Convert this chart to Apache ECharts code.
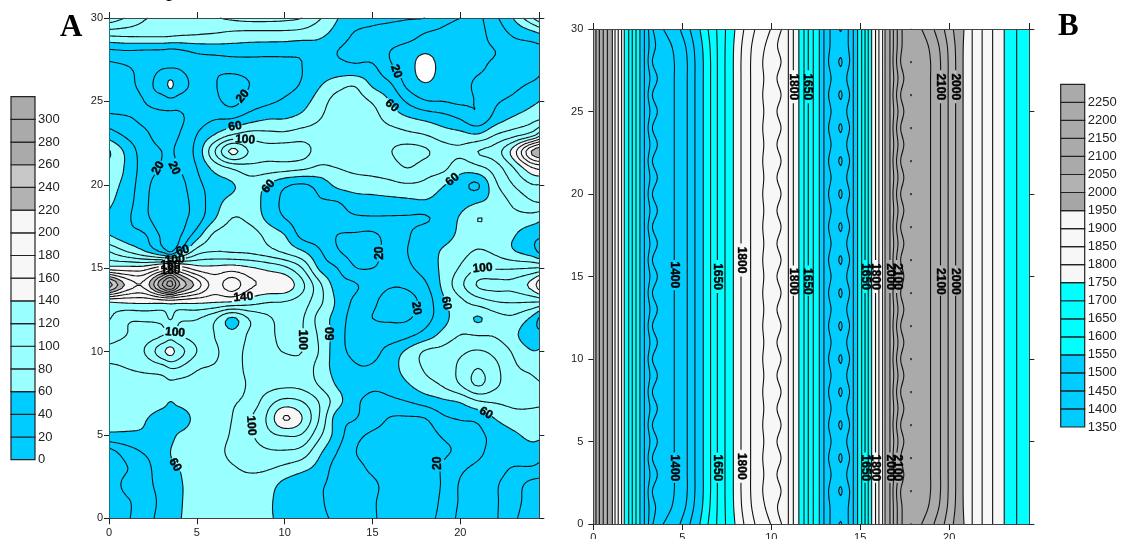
<!DOCTYPE html>
<html><head><meta charset="utf-8">
<style>html,body{margin:0;padding:0;background:#fff}#c{width:1126px;height:539px}</style>
<script src="https://cdn.jsdelivr.net/npm/echarts@6/dist/echarts.min.js"></script>
</head><body><div id="c"></div>
<script>
// ---------- Chart A: values ----------
const aColumns = [0,1,2,3,3.5,4,5,6,7,8,9,10,11,12,13,14,15,16,17,18,19,20,21,22,23,24,24.5];
const aRowsY = [30,29,28,27,26,25,24,23,22,21,20,19,18,17,16,15,14,13,12,11,10,9,8,7,6,5,4,3,2,1,0];
const aValues = [
[135,118,102,95,93,92,92,98,104,108,108,106,100,82,61,50,44,42,41,40,28,20,16,36,60,95,115],
[84,85,85,85,84,82,80,78,74,72,72,72,70,64,52,38,36,34,30,18,14,10,14,28,42,50,56],
[35,38,37,36,34,36,43,46,48,48,47,46,44,50,40,34,32,20,10,2,8,12,17,20,30,32,34],
[14,18,26,21,20,21,27,24,25,27,28,32,40,46,47,45,44,24,10,-10,8,12,17,24,28,30,36],
[10,14,24,12,-4,12,24,21,14,20,28,34,42,58,72,78,57,43,15,2,10,13,24,30,35,42,46],
[8,10,20,25,24,25,27,25,14,28,36,43,52,70,88,88,78,60,37,22,20,17,22,37,45,55,60],
[26,22,16,14,14,16,30,38,39,50,58,59,66,79,92,100,88,72,62,55,48,38,24,48,62,72,76],
[50,36,24,12,10,20,40,60,80,88,86,85,90,90,94,92,92,90,85,80,70,66,62,80,92,108,130],
[82,55,30,20,16,28,46,98,145,118,108,110,108,92,92,90,92,99,108,103,90,84,100,110,148,218,236],
[72,57,30,18,10,20,40,66,82,92,90,88,84,76,80,84,86,90,100,90,85,68,74,90,118,155,165],
[66,54,26,12,8,12,34,50,58,70,60,44,38,48,65,70,72,75,78,75,62,48,38,76,100,118,120],
[63,50,24,12,8,12,28,52,66,72,52,36,32,38,40,50,52,54,56,58,52,52,58,68,84,98,102],
[58,44,26,8,6,12,30,58,80,75,56,40,32,30,33,37,38,38,38,38,48,62,80,74,74,72,66],
[60,48,42,16,6,16,50,84,90,90,74,60,34,30,20,18,17,28,38,50,52,64,72,68,62,48,44],
[100,80,62,36,18,44,90,100,98,96,88,76,62,42,22,15,16,26,40,50,62,72,82,76,62,50,36],
[148,148,150,175,195,175,150,146,150,143,135,125,100,56,40,21,20,26,36,48,64,82,100,98,98,100,102],
[272,215,205,278,308,262,212,172,192,165,156,154,125,84,50,42,30,22,24,37,64,94,122,126,126,145,172],
[142,145,146,148,150,148,146,143,141,130,122,120,110,85,56,36,24,12,13,28,56,75,90,100,102,102,102],
[122,105,105,108,122,105,102,85,57,82,96,108,102,72,52,30,20,18,18,32,52,70,58,72,76,58,38],
[110,100,92,98,110,100,92,80,66,83,92,108,101,76,50,30,30,28,35,48,66,80,79,78,66,45,46],
[92,90,100,134,146,130,100,84,72,86,92,101,100,78,48,36,34,48,64,82,86,96,102,94,78,62,62],
[76,80,84,90,100,98,82,78,74,84,88,90,92,72,52,42,42,52,68,82,88,104,120,105,84,76,70],
[70,72,72,72,74,72,72,72,74,82,92,96,94,78,58,47,42,46,58,72,82,100,122,104,88,85,82],
[66,70,72,68,60,66,70,74,78,86,110,126,120,98,68,44,36,36,40,48,56,62,78,82,84,82,82],
[62,65,62,50,46,48,66,72,80,98,122,162,140,98,50,41,30,19,18,20,36,42,45,61,72,76,74],
[57,57,57,52,54,62,68,72,82,96,114,122,118,84,50,27,17,14,12,12,22,28,36,46,56,65,64],
[12,30,42,50,60,66,68,74,84,90,97,98,92,64,40,21,12,8,8,10,17,24,36,46,50,52,50],
[6,19,32,52,56,60,70,72,78,83,82,75,66,52,32,26,16,6,5,8,22,36,44,46,39,38,34],
[5,26,34,46,50,58,66,68,70,72,68,54,44,42,34,28,24,12,10,10,22,42,50,42,30,14,12],
[5,17,30,44,48,58,66,68,68,66,64,50,44,42,32,26,22,12,10,10,24,42,48,42,28,12,10],
[5,17,32,46,52,59,66,68,68,66,62,56,50,44,36,28,22,14,12,14,26,44,46,42,24,10,8]
];
const aLevels = [0,20,40,60,80,100,120,140,160,180,200,220,240,260,280,300,320];
const aColors = ['#00CCFF','#00CCFF','#00CCFF','#99FFFF','#99FFFF','#99FFFF','#99FFFF','#F7F7F7','#F7F7F7','#F7F7F7','#F7F7F7','#B2B2B2','#C8C8C8','#AAAAAA','#AAAAAA','#AAAAAA'];
// x, y, text, rotation in degrees
const aLabels = [
[7.62,25.3,'20',50],[7.18,23.5,'60',10],[7.75,22.7,'100',-3],[2.8,21,'20',60],[3.7,21,'20',-65],
[9.08,19.9,'60',50],[4.2,16.05,'60',15],[3.75,15.5,'100',5],[3.5,15.15,'160',0],[3.5,14.85,'180',0],
[16.35,26.8,'20',-70],[16.1,24.74,'60',-40],[19.56,20.3,'60',40],[15.44,15.9,'20',90],[21.27,15,'100',5],
[3.76,11.14,'100',-5],[7.65,13.26,'140',5],[10.98,10.7,'100',-90],[12.6,11.06,'60',90],[8.09,5.56,'100',-85],
[3.76,3.2,'60',-60],[17.5,12.6,'20',-80],[19.2,12.9,'60',-80],[21.46,6.3,'60',-30],[18.72,3.3,'20',90]
];

// ---------- Chart B: values ----------
const bRowsY = [30,29,28,27,26,25,24,23,22,21,20,19,18,17,16,15,14,13,12,11,10,9,8,7,6,5,4,3,2,1,0];
const bEvenValues = [2190,2150,2100,2050,2000,1950,1900,1850,1800,1750,1700,1650,1600,1550,1500,1450,1400,1375,1400,1450,1500,1550,1600,1650,1700,1750,1800,1850,1900,1925,1900,1850,1800,1750,1700,1650,1600,1550,1500,1450,1390,1450,1500,1550,1600,1650,1700,1750,1800,1850,1900,1950,2000,2050,2100,2150,2201,2150,2100,2050,2000,1950,1900,1850,1800,1750,1700,1680];
const bOddValues  = [2190,2150,2100,2050,2000,1950,1900,1850,1800,1750,1700,1650,1600,1550,1500,1450,1400,1375,1400,1450,1500,1550,1600,1650,1700,1750,1800,1850,1900,1925,1900,1850,1800,1750,1700,1650,1600,1550,1500,1450,1440,1450,1500,1550,1600,1650,1700,1750,1800,1850,1900,1950,2000,2050,2100,2150,2155,2150,2100,2050,2000,1950,1900,1850,1800,1750,1700,1680];
const bEvenX = [0,.15,.34,.56,.79,1.07,1.22,1.40,1.59,1.74,1.99,2.19,2.40,2.62,2.87,3.08,3.32,4.03,4.55,5.28,5.71,6.18,6.59,6.97,7.40,7.87,8.30,8.84,9.52,10.02,10.55,10.96,11.24,11.55,11.84,12.08,12.36,12.70,12.96,13.22,13.90,14.40,14.61,14.85,15.08,15.27,15.45,15.64,15.86,16.05,16.26,16.39,16.67,16.84,17.04,17.27,17.85,18.95,19.51,19.94,20.36,20.78,21.29,21.85,22.44,23.09,23.79,24.5];
const bOddX  = [0,.15,.34,.56,.79,1.07,1.22,1.40,1.59,1.74,1.99,2.19,2.40,2.62,2.87,3.18,3.60,4.07,4.55,5.28,5.71,6.18,6.59,6.97,7.40,7.87,8.30,8.84,9.58,10.02,10.32,10.96,11.24,11.55,11.84,12.08,12.36,12.70,12.96,13.36,13.90,14.24,14.61,14.85,15.08,15.27,15.45,15.64,15.86,16.05,16.26,16.39,16.67,16.88,17.12,17.45,17.85,18.95,19.51,19.94,20.36,20.78,21.29,21.85,22.44,23.09,23.79,24.5];
const bNearX = [0,.15,.34,.56,.79,1.07,1.22,1.40,1.59,1.74,1.99,2.19,2.40,2.62,2.87,3.13,3.50,3.92,4.40,5.18,5.64,6.13,6.55,6.96,7.41,7.89,8.34,8.90,9.66,10.06,10.35,10.96,11.24,11.55,11.84,12.08,12.36,12.70,12.96,13.30,13.90,14.33,14.61,14.85,15.08,15.27,15.45,15.64,15.86,16.05,16.26,16.39,16.67,16.86,17.08,17.35,17.85,18.82,19.42,19.89,20.33,20.79,21.29,21.85,22.44,23.09,23.79,24.5];
const bEdgeX = [0,.15,.34,.56,.79,1.07,1.22,1.40,1.59,1.74,1.99,2.19,2.40,2.62,2.87,3.10,3.35,3.62,3.93,4.87,5.43,5.99,6.45,6.93,7.43,7.96,8.46,9.08,9.96,10.20,10.58,10.96,11.24,11.55,11.84,12.08,12.36,12.70,12.96,13.30,13.90,14.33,14.61,14.85,15.08,15.27,15.45,15.64,15.86,16.05,16.26,16.39,16.67,16.86,17.08,17.35,17.85,18.45,19.14,19.72,20.23,20.83,21.29,21.85,22.44,23.09,23.79,24.5];
const bLevels = [1350,1400,1450,1500,1550,1600,1650,1700,1750,1800,1850,1900,1950,2000,2050,2100,2150,2200,2250,2300];
const bColors = ['#00CCFF','#00CCFF','#00CCFF','#00CCFF','#00FFFF','#00FFFF','#00FFFF','#00FFFF','#F7F7F7','#F7F7F7','#F7F7F7','#F7F7F7','#A6A6A6','#B2B2B2','#AAAAAA','#AAAAAA','#AAAAAA','#AAAAAA','#AAAAAA'];
const bLabels = [
[11.24,26.5,'1800',-90],[12.04,26.5,'1650',-90],[19.51,26.5,'2100',-90],[20.36,26.5,'2000',-90],
[4.55,15.1,'1400',-90],[6.97,15.0,'1650',-90],[8.30,16.0,'1800',-90],[11.24,14.7,'1800',-90],[12.04,14.7,'1650',-90],
[15.27,15,'1650',-90],[15.86,15,'1800',-90],[16.67,15,'2000',-90],[17.08,15,'2100',-90],[19.51,14.7,'2100',-90],[20.36,14.7,'2000',-90],
[4.55,3.4,'1400',-90],[6.97,3.4,'1650',-90],[8.30,3.5,'1800',-90],[15.27,3.4,'1650',-90],[15.86,3.4,'1800',-90],[16.67,3.4,'2000',-90],[17.08,3.4,'2100',-90]
];

// ---------- contour engine ----------
function cr(a,b,c,d,t){return 0.5*((2*b)+(-a+c)*t+(2*a-5*b+4*c-d)*t*t+(-a+3*b-3*c+d)*t*t*t);}
function up1(arr,f){
  if(f===1) return arr.slice();
  const n=arr.length,out=[];
  for(let i=0;i<n-1;i++){
    const a=arr[Math.max(i-1,0)],b=arr[i],c=arr[i+1],d=arr[Math.min(i+2,n-1)];
    for(let k=0;k<f;k++) out.push(cr(a,b,c,d,k/f));
  }
  out.push(arr[n-1]);return out;
}
function up2(M,fi,fj){
  const R=M.map(r=>up1(r,fi)),ni=R[0].length,C=[];
  for(let i=0;i<ni;i++) C.push(up1(R.map(r=>r[i]),fj));
  const nj=C[0].length,O=[];
  for(let j=0;j<nj;j++){const r=new Array(ni);for(let i=0;i<ni;i++) r[i]=C[i][j];O.push(r);}
  return O;
}
function clip(poly,L,above){
  const out=[];
  for(let i=0;i<poly.length;i++){
    const p=poly[i],q=poly[(i+1)%poly.length];
    const pi=above?p[2]>=L:p[2]<=L, qi=above?q[2]>=L:q[2]<=L;
    if(pi) out.push(p);
    if(pi!==qi){const t=(L-p[2])/(q[2]-p[2]);out.push([p[0]+t*(q[0]-p[0]),p[1]+t*(q[1]-p[1]),L]);}
  }
  return out;
}
function contour(X,Y,V,levels){
  const nB=levels.length-1,bands=[];for(let k=0;k<nB;k++)bands.push([]);
  const lines=levels.map(()=>[]);
  function tri(A,B,C){
    const mn=Math.min(A[2],B[2],C[2]),mx=Math.max(A[2],B[2],C[2]);
    for(let k=0;k<nB;k++){
      if(mx<levels[k]||mn>levels[k+1])continue;
      let p=[A,B,C];
      if(mn<levels[k])p=clip(p,levels[k],true);
      if(p.length&&mx>levels[k+1])p=clip(p,levels[k+1],false);
      if(p.length>=3)bands[k].push(p);
    }
    for(let k=0;k<levels.length;k++){
      const L=levels[k];if(mx<L||mn>L)continue;
      const pts=[];
      [[A,B],[B,C],[C,A]].forEach(e=>{
        const a=e[0],b=e[1];
        if((a[2]>=L)!==(b[2]>=L)){const t=(L-a[2])/(b[2]-a[2]);pts.push([a[0]+t*(b[0]-a[0]),a[1]+t*(b[1]-a[1])]);}
      });
      if(pts.length===2)lines[k].push(pts);
    }
  }
  for(let j=0;j<V.length-1;j++)for(let i=0;i<V[0].length-1;i++){
    const a=[X[j][i],Y[j][i],V[j][i]],b=[X[j][i+1],Y[j][i+1],V[j][i+1]],c=[X[j+1][i+1],Y[j+1][i+1],V[j+1][i+1]],d=[X[j+1][i],Y[j+1][i],V[j+1][i]];
    const mn=Math.min(a[2],b[2],c[2],d[2]),mx=Math.max(a[2],b[2],c[2],d[2]);
    let whole=-1;
    for(let k=0;k<nB;k++) if(mn>levels[k]&&mx<levels[k+1]){whole=k;break;}
    if(whole>=0){bands[whole].push([a,b,c,d]);continue;}
    tri(a,b,c);tri(a,c,d);
  }
  return {bands,lines};
}
function pathFromPolys(polys,api){
  const s=[];
  for(const p of polys){
    for(let i=0;i<p.length;i++){
      const c=api.coord([p[i][0],p[i][1]]);
      s.push((i?'L':'M')+c[0].toFixed(2)+' '+c[1].toFixed(2));
    }
    s.push('Z');
  }
  return s.join('');
}
function chainPath(segs){
  const key=p=>p[0].toFixed(2)+','+p[1].toFixed(2),map=new Map();
  segs.forEach((g,i)=>{[key(g[0]),key(g[1])].forEach(k=>{if(!map.has(k))map.set(k,[]);map.get(k).push(i);});});
  const used=new Array(segs.length).fill(false),out=[];
  function walk(start){
    const run=[];let cur=start;
    for(;;){
      const l=map.get(key(cur));let nx=-1;
      if(l)for(const i of l)if(!used[i]){nx=i;break;}
      if(nx<0)break;
      used[nx]=true;
      const g=segs[nx];cur=key(g[0])===key(cur)?g[1]:g[0];run.push(cur);
    }
    return run;
  }
  for(let i=0;i<segs.length;i++){
    if(used[i])continue;
    used[i]=true;
    const f=walk(segs[i][1]),b=walk(segs[i][0]);
    const pts=b.reverse().concat([segs[i][0],segs[i][1]],f);
    out.push(pts.map((p,n)=>(n?'L':'M')+p[0].toFixed(2)+' '+p[1].toFixed(2)).join(''));
  }
  return out.join('');
}
function contourSeries(name,field,levels,colors,labels,gridIdx,xIdx,yIdx){
  const common={type:'custom',coordinateSystem:'cartesian2d',xAxisIndex:xIdx,yAxisIndex:yIdx,silent:true,animation:false};
  return [
    Object.assign({},common,{name:name+' bands',z:2,data:colors.map((c,i)=>[levels[i],levels[i+1]]),
      renderItem(p,api){
        const polys=field.bands[p.dataIndex];
        if(!polys.length)return null;
        return {type:'path',shape:{pathData:pathFromPolys(polys,api)},style:{fill:colors[p.dataIndex],stroke:null}};
      }}),
    Object.assign({},common,{name:name+' lines',z:3,data:levels.map(l=>[l]),
      renderItem(p,api){
        const L=levels[p.dataIndex],labs=labels.filter(l=>Number(l[2])===L).map(l=>{
          const c=api.coord([l[0],l[1]]),a=l[3]*Math.PI/180;
          return {c,cos:Math.cos(a),sin:Math.sin(a),h:l[2].length*3.6+1};});
        const segs=[];
        for(const s of field.lines[p.dataIndex]){
          const a=api.coord(s[0]),b=api.coord(s[1]),mx=(a[0]+b[0])/2,my=(a[1]+b[1])/2;
          let hide=false;
          for(const q of labs){
            const dx=mx-q.c[0],dy=my-q.c[1],u=dx*q.cos-dy*q.sin,v=dx*q.sin+dy*q.cos;
            if(Math.abs(u)<q.h&&Math.abs(v)<7){hide=true;break;}
          }
          if(!hide)segs.push([a,b]);
        }
        if(!segs.length)return null;
        return {type:'path',shape:{pathData:chainPath(segs)},style:{fill:'none',stroke:'#111',lineWidth:1.1,lineJoin:'round'}};
      }}),
    Object.assign({},common,{name:name+' labels',z:4,data:labels.map(l=>[l[0],l[1]]),
      renderItem(p,api){
        const l=labels[p.dataIndex],c=api.coord([l[0],l[1]]);
        return {type:'text',x:c[0],y:c[1],rotation:l[3]*Math.PI/180,
          style:{text:l[2],fill:'#000',stroke:'#000',lineWidth:0.4,font:'bold 12px "Liberation Sans"',align:'center',verticalAlign:'middle'}};
      }})
  ];
}
function legendSeries(levels,colors,xIdx,yIdx){
  return {type:'custom',coordinateSystem:'cartesian2d',xAxisIndex:xIdx,yAxisIndex:yIdx,silent:true,animation:false,z:3,
    data:colors.map((c,i)=>[levels[i],levels[i+1]]),
    renderItem(p,api){
      const a=api.coord([0,api.value(0)]),b=api.coord([1,api.value(1)]);
      return {type:'rect',shape:{x:a[0],y:b[1],width:b[0]-a[0],height:a[1]-b[1]},
        style:{fill:colors[p.dataIndex],stroke:'#222',lineWidth:1.2}};
    }};
}

// ---------- build fields ----------
const aFi=5,aFj=5;
const aV=up2(aValues,aFi,aFj);
const aX=up2(aValues.map(()=>aColumns),aFi,aFj);
const aY=up2(aRowsY.map(y=>aColumns.map(()=>y)),aFi,aFj);
const aField=contour(aX,aY,aV,aLevels);

const bXRows=bRowsY.map(y=>(y===0||y===30)?bEdgeX:(y===1||y===29)?bNearX:(y%2===0?bEvenX:bOddX));
const bVRows=bRowsY.map(y=>y%2===0?bEvenValues:bOddValues);
const bFj=6;
const bV=up2(bVRows,1,bFj);
const bX=up2(bXRows,1,bFj);
const bY=up2(bRowsY.map(y=>bEvenX.map(()=>y)),1,bFj);
const bField=contour(bX,bY,bV,bLevels);

// ---------- option ----------
const font='"Liberation Sans"',axisCol='#444';
function xAx(grid,pos,labels,color,margin){return {type:'value',gridIndex:grid,position:pos,min:0,max:24.5,interval:5,z:5,
  axisLine:{show:true,onZero:false,lineStyle:{color:color,width:1}},axisTick:{show:true,length:6,lineStyle:{color:'#222'}},splitLine:{show:false},
  axisLabel:{show:labels,fontFamily:font,fontSize:11,color:'#222',margin:margin,showMaxLabel:false}};}
function yAx(grid,pos,labels,color,margin){return {type:'value',gridIndex:grid,position:pos,min:0,max:30,interval:5,z:5,
  axisLine:{show:true,onZero:false,lineStyle:{color:color,width:1}},axisTick:{show:true,length:5,lineStyle:{color:'#222'}},splitLine:{show:false},
  axisLabel:{show:labels,fontFamily:font,fontSize:11,color:'#222',margin:margin}};}
function legX(grid){return {type:'value',gridIndex:grid,min:0,max:1,show:false};}
function legY(grid,min,max,step){return {type:'value',gridIndex:grid,position:'right',min:min,max:max,interval:step,
  axisLine:{show:false},axisTick:{show:false},splitLine:{show:false},
  axisLabel:{fontFamily:font,fontSize:13,color:'#222',margin:3,showMaxLabel:false,formatter:v=>String(v)}};}

const option={
  animation:false,backgroundColor:'#fff',
  title:[
    {text:'A',left:60,top:12,padding:0,textStyle:{fontFamily:'"Liberation Serif"',fontWeight:'bold',fontSize:31,color:'#000'}},
    {text:'B',left:1058,top:11,padding:0,textStyle:{fontFamily:'"Liberation Serif"',fontWeight:'bold',fontSize:31,color:'#000'}},
    {text:'p',left:166,top:-22,padding:0,textStyle:{fontFamily:'"Liberation Serif"',fontWeight:'normal',fontSize:24,color:'#000'}}
  ],
  grid:[
    {left:109,top:18,width:430.3,height:500.3,outerBoundsMode:'none'},
    {left:593.3,top:29,width:436,height:495,outerBoundsMode:'none'},
    {left:11,top:96.7,width:24,height:363,outerBoundsMode:'none'},
    {left:1060.7,top:84.3,width:24,height:342.7,outerBoundsMode:'none'}
  ],
  xAxis:[xAx(0,'bottom',true,axisCol,9),xAx(0,'top',false,axisCol,7),xAx(1,'bottom',true,axisCol,8),xAx(1,'top',false,axisCol,7),legX(2),legX(3)],
  yAxis:[yAx(0,'left',true,'#0a7a8a',6),yAx(0,'right',false,axisCol,2),yAx(1,'left',true,axisCol,10),yAx(1,'right',false,axisCol,2),
    legY(2,0,320,20),legY(3,1350,2300,50)],
  series:[].concat(
    contourSeries('A',aField,aLevels,aColors,aLabels,0,0,0),
    contourSeries('B',bField,bLevels,bColors,bLabels,1,2,2),
    [legendSeries(aLevels,aColors,4,4),legendSeries(bLevels,bColors,5,5)]
  )
};
const chart=echarts.init(document.getElementById('c'),null,{renderer:'canvas'});
chart.setOption(option);
</script></body></html>
